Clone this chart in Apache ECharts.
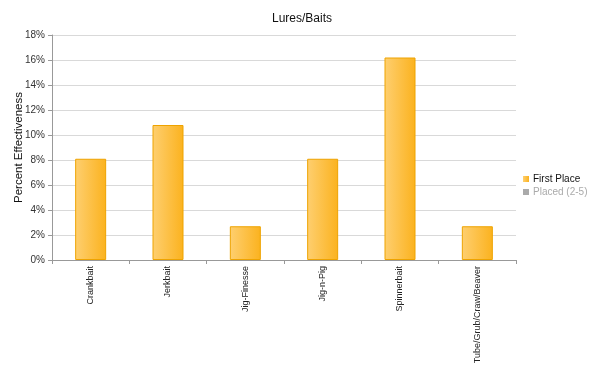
<!DOCTYPE html>
<html>
<head>
<meta charset="utf-8">
<script src="https://cdn.jsdelivr.net/npm/echarts@6/dist/echarts.min.js"></script>
<style>html,body{margin:0;padding:0;background:#fff}#c{width:600px;height:376px}</style>
</head>
<body>
<div id="c"></div>
<script>
var categories = ['Crankbait', 'Jerkbait', 'Jig-Finesse', 'Jig-n-Pig', 'Spinnerbait', 'Tube/Grub/Craw/Beaver'];
var firstPlace = [8.1, 10.8, 2.7, 8.1, 16.2, 2.7];
var placed = [];
var seriesNames = ['First Place', 'Placed (2-5)'];

var chart = echarts.init(document.getElementById('c'));
chart.setOption({
  animation: false,
  backgroundColor: '#fff',
  title: {
    text: 'Lures/Baits',
    left: 297, textAlign: 'center', top: 8,
    textStyle: {fontFamily: 'Liberation Sans, Arial', fontSize: 12, fontWeight: 'normal', color: '#111'}
  },
  legend: {
    orient: 'vertical', left: 518, top: 169,
    itemWidth: 6, itemHeight: 6, itemGap: 3, icon: 'rect',
    inactiveColor: '#aaa',
    itemStyle: {borderWidth: 0},
    textStyle: {fontFamily: 'Liberation Sans, Arial', fontSize: 10, color: '#111', padding: [0,0,0,-1]},
    data: seriesNames,
    selected: {'Placed (2-5)': false}
  },
  grid: {left: 52, right: 84, top: 35, bottom: 116, outerBoundsMode: 'none', containLabel: false},
  xAxis: {
    type: 'category', data: categories,
    axisLine: {lineStyle: {color: '#999'}},
    axisTick: {show: true, length: 4, interval: 0, lineStyle: {color: '#999'}},
    axisLabel: {rotate: 90, interval: 0, fontFamily: 'Liberation Sans, Arial', fontSize: 9, color: '#222', margin: 6}
  },
  yAxis: {
    type: 'value', min: 0, max: 18, interval: 2,
    name: 'Percent Effectiveness', nameLocation: 'middle', nameGap: 27, nameMoveOverlap: false,
    nameTextStyle: {fontFamily: 'Liberation Sans, Arial', fontSize: 11.5, color: '#111'},
    axisLine: {show: true, lineStyle: {color: '#999'}},
    axisTick: {show: true, length: 4, lineStyle: {color: '#999'}},
    axisLabel: {formatter: '{value}%', fontFamily: 'Liberation Sans, Arial', fontSize: 10, color: '#333', margin: 7},
    splitLine: {lineStyle: {color: '#d9d9d9'}}
  },
  series: [
    {
      name: seriesNames[0], type: 'bar', data: firstPlace, barWidth: 31,
      itemStyle: {
        color: new echarts.graphic.LinearGradient(0, 0, 1, 0, [
          {offset: 0, color: '#fecf70'},
          {offset: 1, color: '#fbb21e'}
        ]),
        borderColor: '#eea300', borderWidth: 1
      }
    },
    {
      name: seriesNames[1], type: 'bar', data: placed, barWidth: 31,
      itemStyle: {color: '#aaa'}
    }
  ]
});
</script>
</body>
</html>
